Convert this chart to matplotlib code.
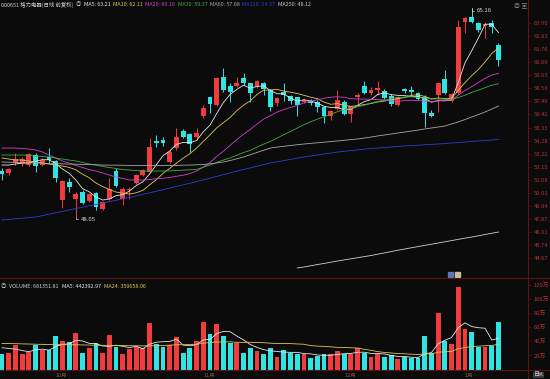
import numpy as np
import matplotlib
matplotlib.use('Agg')
import matplotlib.pyplot as plt
from matplotlib.patches import Rectangle
from matplotlib.lines import Line2D

# 字体
plt.rcParams['font.family'] = ['Noto Sans CJK SC', 'DejaVu Sans']
plt.rcParams['axes.unicode_minus'] = False

BG = '#0b0b0b'
UP = '#f03c3c'
DOWN = '#30e4e4'
AXIS_RED = '#5c1414'
LABEL_RED = '#b43030'

# 日K数据 (前复权)
opens = [51.82, 51.60, 52.45, 52.36, 52.28, 53.10, 52.28, 52.94, 52.61, 49.42,
         50.89, 49.50, 50.07, 49.34, 49.99, 48.68, 49.50, 51.79, 49.50, 50.24,
         50.81, 51.46, 51.71, 54.25, 54.33, 52.53, 53.67, 55.06, 54.82, 54.57,
         56.29, 57.85, 57.19, 59.48, 58.75, 58.75, 59.40, 58.99, 58.66, 58.99,
         58.42, 57.35, 58.25, 57.93, 57.85, 57.44, 57.52, 57.44, 57.03, 56.29,
         56.86, 57.44, 56.45, 57.85, 58.75, 58.17, 58.42, 58.34, 57.93, 57.19,
         58.50, 58.42, 58.17, 57.85, 56.54, 58.01, 59.32, 57.52, 58.17, 63.98,
         64.39, 63.90, 63.65, 63.90, 62.10]
closes = [51.55, 51.96, 52.77, 52.77, 53.18, 52.20, 52.69, 52.69, 51.22, 50.97,
          50.48, 49.91, 49.17, 49.91, 48.85, 49.26, 50.32, 50.57, 50.32, 50.32,
          51.46, 51.87, 53.76, 54.08, 54.08, 53.35, 54.57, 54.57, 54.00, 54.90,
          56.95, 57.27, 59.40, 58.42, 58.25, 58.99, 58.99, 58.17, 59.15, 58.50,
          57.03, 57.76, 58.01, 57.52, 57.19, 57.60, 57.35, 57.03, 56.29, 56.70,
          57.60, 56.45, 57.11, 58.01, 58.17, 58.42, 58.58, 57.76, 57.27, 57.85,
          58.34, 58.25, 57.68, 56.54, 56.29, 58.99, 58.17, 58.09, 63.57, 64.31,
          63.98, 63.33, 63.82, 63.57, 60.87]
highs = [52.04, 52.04, 53.26, 52.94, 53.26, 53.26, 52.86, 53.67, 52.69, 51.06,
         51.22, 50.07, 50.24, 49.99, 50.07, 49.34, 51.22, 52.04, 50.48, 50.48,
         51.55, 51.96, 54.49, 54.74, 54.57, 53.51, 55.31, 55.23, 54.90, 55.31,
         57.19, 57.85, 59.48, 60.22, 58.99, 59.48, 59.81, 58.99, 59.24, 59.07,
         58.50, 57.85, 58.99, 58.01, 57.85, 57.68, 57.68, 57.60, 57.11, 56.78,
         58.42, 57.60, 57.11, 58.17, 59.15, 58.66, 59.15, 58.50, 58.09, 57.93,
         58.58, 58.75, 58.25, 58.01, 56.78, 58.99, 60.05, 58.17, 64.14, 64.39,
         65.16, 63.98, 63.98, 64.14, 62.26]
lows = [51.06, 51.46, 52.28, 52.20, 52.20, 51.71, 52.20, 52.45, 50.89, 48.77,
        50.07, 48.05, 49.09, 49.26, 48.60, 48.60, 49.42, 50.48, 49.01, 49.50,
        50.73, 51.38, 51.63, 53.76, 53.84, 52.45, 53.51, 54.49, 53.35, 54.33,
        56.13, 56.54, 57.11, 58.25, 57.44, 58.66, 58.83, 57.44, 58.58, 58.01,
        56.70, 57.11, 57.52, 57.27, 56.29, 57.35, 57.19, 56.62, 55.72, 55.96,
        56.78, 56.37, 55.80, 57.27, 58.09, 58.01, 58.01, 57.68, 57.11, 57.11,
        58.17, 58.01, 57.60, 55.39, 56.21, 56.62, 58.09, 57.44, 58.09, 63.08,
        63.90, 63.16, 62.67, 63.08, 60.38]

# 均线
ma5 = [52.28, 52.28, 52.36, 52.45, 52.45, 52.58, 52.72, 52.71, 52.40, 51.96,
       51.61, 51.06, 50.35, 50.09, 49.67, 49.42, 49.50, 49.78, 49.86, 50.16,
       50.60, 50.91, 51.55, 52.30, 53.05, 53.43, 53.97, 54.13, 54.12, 54.28,
       55.00, 55.54, 56.50, 57.39, 58.06, 58.47, 58.81, 58.57, 58.71, 58.76,
       58.37, 58.12, 58.09, 57.76, 57.50, 57.62, 57.53, 57.34, 57.09, 56.99,
       56.99, 56.81, 56.83, 57.17, 57.47, 57.63, 58.06, 58.19, 58.04, 57.98,
       57.96, 57.89, 57.88, 57.73, 57.42, 57.55, 57.53, 57.62, 59.02, 60.63,
       61.62, 62.66, 63.80, 63.80, 63.11]
ma10 = [52.86, 52.77, 52.69, 52.69, 52.61, 52.53, 52.45, 52.36, 52.28, 52.20,
        52.09, 51.89, 51.53, 51.24, 50.81, 50.52, 50.28, 50.07, 49.98, 49.91,
        50.01, 50.21, 50.66, 51.08, 51.60, 52.01, 52.44, 52.84, 53.21, 53.67,
        54.21, 54.75, 55.32, 55.75, 56.17, 56.73, 57.17, 57.53, 58.05, 58.41,
        58.42, 58.47, 58.33, 58.24, 58.13, 57.99, 57.83, 57.71, 57.43, 57.25,
        57.31, 57.17, 57.08, 57.13, 57.23, 57.31, 57.44, 57.51, 57.61, 57.72,
        57.80, 57.98, 58.03, 57.89, 57.70, 57.76, 57.71, 57.75, 58.38, 59.02,
        59.59, 60.09, 60.71, 61.41, 61.87]
ma20 = [53.67, 53.67, 53.67, 53.63, 53.59, 53.51, 53.35, 53.10, 52.86, 52.61,
        52.45, 52.24, 52.08, 51.91, 51.79, 51.63, 51.46, 51.30, 51.18, 51.06,
        51.06, 51.05, 51.10, 51.16, 51.20, 51.26, 51.36, 51.45, 51.59, 51.78,
        52.11, 52.48, 52.99, 53.41, 53.89, 54.37, 54.80, 55.19, 55.63, 56.04,
        56.32, 56.61, 56.82, 56.99, 57.15, 57.36, 57.50, 57.62, 57.74, 57.83,
        57.86, 57.82, 57.71, 57.68, 57.68, 57.65, 57.63, 57.61, 57.52, 57.49,
        57.55, 57.58, 57.56, 57.51, 57.46, 57.53, 57.58, 57.62, 57.99, 58.37,
        58.69, 59.03, 59.37, 59.64, 59.78]
ma30 = [53.10, 53.10, 53.10, 53.10, 53.06, 53.02, 52.98, 52.94, 52.86, 52.77,
        52.69, 52.61, 52.49, 52.36, 52.28, 52.16, 52.08, 52.00, 51.91, 51.87,
        51.83, 51.79, 51.79, 51.79, 51.79, 51.81, 51.83, 51.86, 51.89, 51.92,
        52.10, 52.28, 52.50, 52.69, 52.86, 53.08, 53.30, 53.48, 53.75, 53.99,
        54.21, 54.48, 54.77, 55.02, 55.30, 55.58, 55.82, 56.03, 56.23, 56.44,
        56.64, 56.80, 56.91, 57.04, 57.17, 57.35, 57.48, 57.58, 57.70, 57.80,
        57.84, 57.87, 57.81, 57.76, 57.68, 57.69, 57.66, 57.66, 57.80, 57.99,
        58.23, 58.41, 58.61, 58.81, 58.93]
ma60 = [52.53, 52.51, 52.50, 52.48, 52.46, 52.45, 52.43, 52.41, 52.40, 52.38,
        52.36, 52.35, 52.33, 52.32, 52.30, 52.28, 52.27, 52.27, 52.26, 52.25,
        52.24, 52.24, 52.24, 52.24, 52.24, 52.24, 52.25, 52.27, 52.28, 52.30,
        52.32, 52.38, 52.45, 52.53, 52.65, 52.79, 52.94, 53.12, 53.31, 53.49,
        53.67, 53.75, 53.81, 53.88, 53.94, 54.00, 54.05, 54.10, 54.15, 54.20,
        54.25, 54.30, 54.36, 54.41, 54.49, 54.57, 54.66, 54.74, 54.82, 54.90,
        54.98, 55.06, 55.14, 55.23, 55.31, 55.39, 55.47, 55.64, 55.80, 56.00,
        56.21, 56.41, 56.62, 56.86, 57.11]
ma120 = [47.78, 47.83, 47.88, 47.93, 47.98, 48.03, 48.14, 48.26, 48.37, 48.49,
         48.60, 48.72, 48.83, 48.95, 49.06, 49.17, 49.29, 49.40, 49.52, 49.63,
         49.75, 49.88, 50.01, 50.14, 50.27, 50.40, 50.53, 50.66, 50.79, 50.93,
         51.06, 51.20, 51.35, 51.50, 51.64, 51.79, 51.92, 52.05, 52.18, 52.32,
         52.45, 52.54, 52.64, 52.74, 52.84, 52.94, 53.02, 53.10, 53.18, 53.26,
         53.35, 53.40, 53.46, 53.52, 53.58, 53.63, 53.67, 53.71, 53.76, 53.80,
         53.84, 53.87, 53.90, 53.94, 53.97, 54.00, 54.04, 54.08, 54.12, 54.16,
         54.21, 54.25, 54.29, 54.33, 54.37]
ma250 = [np.nan] * 44 + [
         43.86, 43.94, 44.04, 44.14, 44.23, 44.33, 44.43, 44.52, 44.61, 44.70,
         44.79, 44.88, 44.99, 45.09, 45.20, 45.31, 45.41, 45.51, 45.61, 45.71,
         45.80, 45.90, 46.00, 46.10, 46.20, 46.30, 46.39, 46.49, 46.60, 46.70,
         46.80]

# 成交量 (万手)
volume = [21.7, 23.1, 34.9, 22.1, 25.4, 34.9, 27.8, 27.8, 47.7, 40.6,
          38.8, 52.4, 23.9, 30.2, 38.2, 23.1, 49.2, 32.5, 22.1, 29.2,
          32.5, 31.1, 65.8, 35.9, 32.5, 34.9, 46.7, 23.9, 31.1, 40.6,
          68.1, 50.6, 64.4, 47.7, 38.2, 37.3, 23.9, 31.1, 26.8, 21.7,
          30.2, 18.2, 27.8, 23.9, 21.7, 22.1, 16.0, 19.7, 22.1, 22.1,
          26.4, 22.1, 21.7, 30.2, 23.1, 17.4, 21.7, 18.2, 20.7, 15.0,
          17.4, 16.0, 16.0, 47.7, 23.1, 80.1, 41.0, 35.9, 118.0, 57.3,
          53.9, 32.5, 32.5, 33.9, 68.1]
vol_ma5 = [31.0, 30.0, 29.0, 27.0, 25.4, 28.1, 29.0, 27.6, 32.7, 35.8,
           36.5, 41.5, 40.7, 37.2, 36.7, 33.6, 32.9, 34.6, 33.0, 31.2,
           33.1, 29.5, 36.1, 38.9, 39.6, 40.0, 43.2, 34.8, 33.8, 35.4,
           42.1, 42.9, 51.0, 54.3, 53.8, 47.6, 42.3, 35.6, 31.5, 28.2,
           26.7, 25.6, 24.9, 24.4, 24.4, 22.7, 22.3, 20.7, 20.3, 20.4,
           21.3, 22.5, 22.9, 24.5, 24.7, 22.9, 22.8, 22.1, 20.2, 18.6,
           18.6, 17.5, 17.0, 22.4, 24.0, 36.6, 41.6, 45.6, 59.6, 66.5,
           61.2, 59.5, 58.8, 42.0, 44.2]
vol_ma24 = [37.0, 37.0, 36.8, 36.5, 36.3, 36.0, 35.8, 35.6, 35.5, 35.4,
            35.3, 35.2, 35.0, 34.8, 34.6, 34.4, 34.3, 34.2, 34.0, 33.9,
            33.8, 33.7, 33.7, 33.8, 34.2, 34.7, 35.2, 35.3, 35.5, 35.8,
            37.5, 38.4, 39.1, 39.4, 39.4, 38.7, 38.7, 38.8, 38.3, 38.2,
            37.5, 36.9, 37.1, 36.9, 36.4, 36.0, 34.0, 33.3, 32.9, 32.3,
            31.5, 31.4, 31.0, 30.6, 28.7, 27.3, 25.5, 24.3, 23.6, 22.7,
            22.4, 21.8, 21.3, 22.4, 22.1, 24.7, 25.2, 25.7, 29.7, 31.2,
            32.8, 33.3, 33.8, 34.2, 36.0]

price_ticks = [63.90, 62.83, 61.76, 60.69, 59.63, 58.56, 57.49, 56.42, 55.35, 54.28,
               53.22, 52.15, 51.08, 50.01, 48.94, 47.87, 46.81, 45.74, 44.67]
vol_ticks = [20, 40, 60, 80, 100, 120]
date_labels = ['10月', '11月', '12月', '1月']
date_pos = [8, 30, 51, 69]

ma_names = ['MA5', 'MA10', 'MA20', 'MA30', 'MA60', 'MA120', 'MA250']
ma_colors = ['#e6e6e6', '#e0c65a', '#d040d0', '#3fae3f', '#a8a8a8', '#2f3fd0', '#cfcfcf']
header_vals = ['63.21', '62.11', '60.16', '59.37', '57.68', '54.37', '48.12']
vol_header = ['VOLUME: 681351.81', 'MA5: 442392.97', 'MA24: 359658.06']
vol_header_colors = ['#cfcfcf', '#e6e6e6', '#e0c65a']

o = np.array(opens)
c = np.array(closes)
h = np.array(highs)
l = np.array(lows)
n = len(c)
x = np.arange(n)
colors = np.where(c >= o, UP, DOWN)

fig = plt.figure(figsize=(5.5, 3.79), dpi=100, facecolor=BG)
ax = fig.add_axes([0, 1 - 278 / 379, 528 / 550, 272 / 379])
axv = fig.add_axes([0, 1 - 370 / 379, 528 / 550, 91 / 379])

for a in (ax, axv):
    a.set_facecolor(BG)
    a.set_xlim(-0.3, 78.4)
    for s in a.spines.values():
        s.set_visible(False)
    a.yaxis.tick_right()
    a.tick_params(axis='y', colors=AXIS_RED, labelcolor=LABEL_RED, labelsize=4.2,
                  length=2, width=0.5, pad=2)
    a.set_xticks([])

# K线
ax.vlines(x, l, h, colors=colors, linewidth=0.7)
body_low = np.minimum(o, c)
body_h = np.maximum(np.abs(c - o), 0.04)
ax.bar(x, body_h, bottom=body_low, width=0.72, color=colors, linewidth=0)

for vals, col in zip([ma5, ma10, ma20, ma30, ma60, ma120, ma250], ma_colors):
    ax.plot(x, vals, color=col, linewidth=0.6)

ax.set_ylim(43.04, 65.29)
ax.set_yticks(price_ticks)
ax.set_yticklabels([f'{t:.2f}' for t in price_ticks])

# 最高最低标注
hi_i = int(np.argmax(h))
lo_i = int(np.argmin(l))
for idx, val, dy in [(hi_i, h[hi_i], -0.26), (lo_i, l[lo_i], -0.19)]:
    ax.annotate(f'{val:.2f}', xy=(idx, val), xytext=(idx + 0.8, val + dy),
                textcoords='data', ha='left', va='center', fontsize=4.3, color='#d8d8d8',
                arrowprops=dict(arrowstyle='-', color='#d8d8d8', lw=0.5, shrinkA=0, shrinkB=0,
                                connectionstyle='angle,angleA=0,angleB=90'))

# 成交量
axv.bar(x, volume, width=0.72, color=colors, linewidth=0)
axv.plot(x, vol_ma5, color='#e6e6e6', linewidth=0.6)
axv.plot(x, vol_ma24, color='#e0c65a', linewidth=0.6)
axv.set_ylim(-0.7, 128.9)
axv.set_yticks(vol_ticks)
axv.set_yticklabels([f'{t}万' for t in vol_ticks])

# 分隔线
for yy in (278, 370):
    fig.add_artist(Line2D([0, 1], [1 - yy / 379] * 2, color=AXIS_RED, lw=0.8))
fig.add_artist(Line2D([528 / 550] * 2, [0, 1], color=AXIS_RED, lw=0.8))

renderer = fig.canvas.get_renderer()


def put_row(x0, y0, items, size, gap=3):
    # 依次排开一行文字
    px = x0
    for txt, col in items:
        t = fig.text(px / 550, y0, txt, color=col, fontsize=size, va='center')
        px = t.get_window_extent(renderer).x1 + gap


# 顶部信息
ty = 1 - 5 / 379
top_items = [('000651 格力电器(日线 前复权)', '#cfcfcf'), ('◎', '#bbbbbb')]
top_items += [(f'{nm}: {v}', col) for nm, v, col in zip(ma_names, header_vals, ma_colors)]
put_row(1, ty, top_items, 3.9, gap=2.5)
fig.text(514 / 550, ty, '◎ ▣', color='#8a8a8a', fontsize=4.3, va='center')

vy = 1 - 287 / 379
put_row(1, vy, [('◎', '#bbbbbb')] + list(zip(vol_header, vol_header_colors)), 3.9, gap=3)

# 小图标
fig.add_artist(Rectangle((448 / 550, 1 - 277 / 379), 5 / 550, 5 / 379,
                         transform=fig.transFigure, color='#5a78b0'))
fig.add_artist(Rectangle((455 / 550, 1 - 277 / 379), 5 / 550, 5 / 379,
                         transform=fig.transFigure, color='#c8bf9a'))

# 日期
dy_ = 1 - 375 / 379
for p, lab in zip(date_pos, date_labels):
    fig.text((2 + 6.71 * p) / 550, dy_, lab, color='#7a5a4a', fontsize=4, va='center')
fig.text(534 / 550, dy_, '日K', color='#cfcfcf', fontsize=4.3, va='center',
         bbox=dict(boxstyle='square,pad=0.1', fc='#3a3a3a', ec='none'))

fig.savefig('out.png', dpi=100, facecolor=BG)
